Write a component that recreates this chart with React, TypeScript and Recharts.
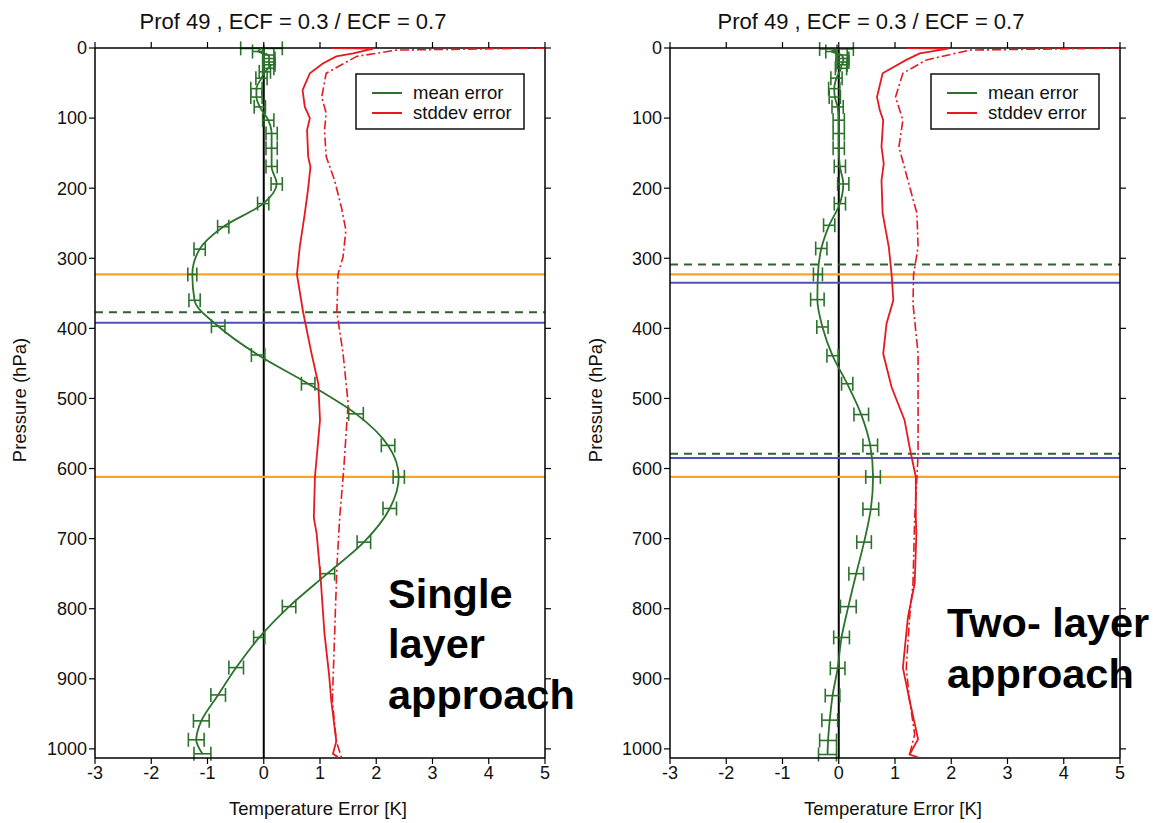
import React from 'react';
import { ScatterChart, Scatter, XAxis, YAxis, ReferenceLine, ErrorBar } from 'recharts';

// ---------- axes ----------
const xTicks = [-3, -2, -1, 0, 1, 2, 3, 4, 5];
const pTicks = [0, 100, 200, 300, 400, 500, 600, 700, 800, 900, 1000];

// ---------- single layer approach (left) ----------
const leftMeanP = [0.5, 5, 10, 15, 20, 24, 29, 34, 43, 58, 70, 84, 103, 122, 143, 169, 194, 222, 255, 287, 323, 360, 397, 438, 479, 522, 567, 612, 657, 705, 750, 797, 841, 884, 923, 960, 987, 1007];
const leftMeanV = [-0.04, -0.1, 0.08, 0.1, 0.09, 0.1, 0.08, 0.02, -0.04, -0.13, -0.13, -0.07, 0.08, 0.14, 0.14, 0.14, 0.23, -0.01, -0.72, -1.14, -1.27, -1.23, -0.81, -0.1, 0.79, 1.64, 2.21, 2.4, 2.24, 1.78, 1.13, 0.45, -0.08, -0.49, -0.81, -1.11, -1.2, -1.09];
const leftMeanE = [0.37, 0.1, 0.1, 0.1, 0.1, 0.1, 0.1, 0.1, 0.1, 0.1, 0.1, 0.1, 0.1, 0.1, 0.1, 0.1, 0.1, 0.1, 0.1, 0.1, 0.08, 0.1, 0.12, 0.12, 0.12, 0.13, 0.12, 0.1, 0.12, 0.12, 0.13, 0.12, 0.1, 0.13, 0.13, 0.14, 0.14, 0.15];

const leftSdP = [0.2, 1, 7.6, 12, 22, 36, 60, 84, 100, 117, 155, 170, 200, 236, 284, 323, 377, 436, 479, 531, 612, 670, 693, 755, 836, 893, 931, 970, 989, 1007, 1012];
const leftSdV = [1.2, 1.95, 1.59, 1.29, 1.05, 0.82, 0.69, 0.73, 0.82, 0.77, 0.79, 0.83, 0.79, 0.73, 0.64, 0.59, 0.7, 0.85, 0.97, 1.0, 0.91, 0.89, 0.94, 1.01, 1.08, 1.16, 1.2, 1.26, 1.29, 1.23, 1.32];

const leftSd2P = [0, 3, 12, 36, 70, 93, 117, 155, 189, 227, 260, 298, 323, 377, 436, 507, 603, 670, 741, 836, 931, 989, 1012];
const leftSd2V = [5.0, 2.36, 1.65, 1.11, 1.03, 1.11, 1.08, 1.11, 1.26, 1.38, 1.46, 1.41, 1.32, 1.3, 1.41, 1.5, 1.42, 1.35, 1.3, 1.26, 1.22, 1.29, 1.38];

const leftOrangeLevels = [323, 612];
const leftBlueLevels = [392];
const leftDashedLevels = [377];

// ---------- two-layer approach (right) ----------
const rightMeanP = [1.5, 5, 10, 15, 20, 24, 29, 43, 58, 70, 84, 103, 122, 143, 169, 194, 222, 253, 286, 323, 359, 398, 439, 479, 523, 567, 612, 658, 705, 750, 797, 841, 885, 924, 959, 988, 1008];
const rightMeanV = [-0.04, -0.13, 0.05, 0.08, 0.08, 0.05, 0.04, -0.04, -0.08, -0.07, -0.02, 0, 0, 0, 0.02, 0.08, 0.02, -0.17, -0.31, -0.37, -0.38, -0.29, -0.11, 0.15, 0.4, 0.56, 0.61, 0.57, 0.45, 0.31, 0.17, 0.05, -0.02, -0.11, -0.16, -0.19, -0.2];
const rightMeanE = [0.3, 0.1, 0.1, 0.1, 0.1, 0.1, 0.1, 0.1, 0.1, 0.1, 0.1, 0.1, 0.1, 0.1, 0.1, 0.1, 0.1, 0.1, 0.1, 0.08, 0.12, 0.1, 0.1, 0.1, 0.13, 0.13, 0.13, 0.14, 0.13, 0.13, 0.14, 0.14, 0.13, 0.13, 0.14, 0.15, 0.16];

const rightSdP = [0.2, 1, 7.6, 17, 36, 70, 89, 103, 141, 165, 189, 236, 284, 323, 360, 393, 436, 484, 531, 574, 612, 670, 693, 764, 812, 884, 931, 986, 1008, 1012];
const rightSdV = [1.2, 1.95, 1.44, 1.2, 0.78, 0.68, 0.73, 0.79, 0.76, 0.8, 0.76, 0.78, 0.89, 0.94, 0.97, 0.85, 0.79, 0.94, 1.17, 1.27, 1.37, 1.37, 1.38, 1.35, 1.23, 1.14, 1.26, 1.41, 1.26, 1.41];

const rightSd2P = [0, 3, 17, 36, 70, 103, 141, 189, 236, 284, 323, 365, 436, 579, 612, 670, 764, 812, 884, 931, 979, 1008];
const rightSd2V = [5.0, 2.33, 1.56, 1.14, 1.01, 1.14, 1.07, 1.23, 1.39, 1.41, 1.33, 1.32, 1.41, 1.41, 1.39, 1.35, 1.32, 1.26, 1.2, 1.26, 1.35, 1.26];

const rightOrangeLevels = [323, 612];
const rightBlueLevels = [335, 585];
const rightDashedLevels = [309, 579];

const titleText = 'Prof 49 , ECF = 0.3 / ECF = 0.7';

// ---------- helpers ----------
type Pt = { p: number; v: number; e: number };
const zip = (p: number[], v: number[], e?: number[]): Pt[] =>
  p.map((pp, i) => ({ p: pp, v: v[i], e: e ? e[i] : 0 }));

const GREEN = '#2b722b';
const RED = '#e6191f';
const ORANGE = '#f6a42a';
const BLUE = '#5050b0';
const DGREEN = '#2f622f';
const FONT = '"Liberation Sans", Arial, Helvetica, sans-serif';

const NoShape = () => null;

type PanelProps = {
  mean: Pt[];
  sd: Pt[];
  sd2: Pt[];
  orange: number[];
  blue: number[];
  dashed: number[];
};

const Panel = ({ mean, sd, sd2, orange, blue, dashed }: PanelProps) => (
  <ScatterChart width={575} height={823} margin={{ top: 38, right: 20, bottom: 35, left: 35 }}>
    <XAxis
      type="number"
      dataKey="v"
      domain={[-3, 5]}
      ticks={xTicks}
      allowDataOverflow
      height={30}
      tickSize={6}
      stroke="#000"
      axisLine={{ stroke: '#000', strokeWidth: 1.5 }}
      tickLine={{ stroke: '#000', strokeWidth: 1.2 }}
      tick={{ fill: '#111', fontSize: 18, fontFamily: FONT }}
    />
    <XAxis
      xAxisId="top"
      orientation="top"
      type="number"
      dataKey="v"
      domain={[-3, 5]}
      ticks={xTicks}
      allowDataOverflow
      height={10}
      tickSize={6}
      stroke="#000"
      axisLine={{ stroke: '#000', strokeWidth: 1.5 }}
      tickLine={{ stroke: '#000', strokeWidth: 1.2 }}
      tickFormatter={() => ''}
    />
    <YAxis
      type="number"
      dataKey="p"
      domain={[0, 1013]}
      reversed
      ticks={pTicks}
      allowDataOverflow
      width={60}
      tickSize={6}
      stroke="#000"
      axisLine={{ stroke: '#000', strokeWidth: 1.5 }}
      tickLine={{ stroke: '#000', strokeWidth: 1.2 }}
      tick={{ fill: '#111', fontSize: 18, fontFamily: FONT }}
    />
    <YAxis
      yAxisId="r"
      orientation="right"
      type="number"
      dataKey="p"
      domain={[0, 1013]}
      reversed
      ticks={pTicks}
      allowDataOverflow
      width={10}
      tickSize={6}
      stroke="#000"
      axisLine={{ stroke: '#000', strokeWidth: 1.5 }}
      tickLine={{ stroke: '#000', strokeWidth: 1.2 }}
      tickFormatter={() => ''}
    />
    <ReferenceLine x={0} stroke="#000" strokeWidth={2} ifOverflow="hidden" />
    {orange.map((y) => (
      <ReferenceLine key={'o' + y} y={y} stroke={ORANGE} strokeWidth={2.2} ifOverflow="hidden" />
    ))}
    {blue.map((y) => (
      <ReferenceLine key={'b' + y} y={y} stroke={BLUE} strokeWidth={2} ifOverflow="hidden" />
    ))}
    {dashed.map((y) => (
      <ReferenceLine key={'d' + y} y={y} stroke={DGREEN} strokeWidth={2} strokeDasharray="8 6" ifOverflow="hidden" />
    ))}
    <Scatter
      data={sd2}
      shape={<NoShape />}
      line={{ stroke: RED, strokeWidth: 1.6, strokeDasharray: '9 3 2 3' }}
      lineType="joint"
      isAnimationActive={false}
      legendType="none"
    />
    <Scatter
      data={sd}
      shape={<NoShape />}
      line={{ stroke: RED, strokeWidth: 1.8 }}
      lineType="joint"
      isAnimationActive={false}
      legendType="none"
    />
    <Scatter
      data={mean}
      shape={<NoShape />}
      line={{ stroke: GREEN, strokeWidth: 1.8 }}
      lineType="joint"
      lineJointType="monotoneY"
      isAnimationActive={false}
      legendType="none"
    >
      <ErrorBar dataKey="e" direction="x" width={7} stroke={GREEN} strokeWidth={1.6} />
    </Scatter>
  </ScatterChart>
);

const LegendBox = ({ x }: { x: number }) => (
  <g>
    <rect x={x} y={74} width={168} height={55} fill="#fff" stroke="#111" strokeWidth={1.5} />
    <line x1={x + 16} x2={x + 46} y1={93} y2={93} stroke={GREEN} strokeWidth={2} />
    <line x1={x + 16} x2={x + 46} y1={113} y2={113} stroke={RED} strokeWidth={2} />
    <text x={x + 57} y={99} fontSize={18.5} fill="#111">mean error</text>
    <text x={x + 57} y={119} fontSize={18.5} fill="#111">stddev error</text>
  </g>
);

export default function App() {
  const leftMean = zip(leftMeanP, leftMeanV, leftMeanE);
  const leftSd = zip(leftSdP, leftSdV);
  const leftSd2 = zip(leftSd2P, leftSd2V);
  const rightMean = zip(rightMeanP, rightMeanV, rightMeanE);
  const rightSd = zip(rightSdP, rightSdV);
  const rightSd2 = zip(rightSd2P, rightSd2V);

  return (
    <div style={{ position: 'absolute', left: 0, top: 0, width: 1153, height: 823, background: '#fff', fontFamily: FONT, overflow: 'hidden' }}>
      <div style={{ position: 'absolute', left: 0, top: 0 }}>
        <Panel mean={leftMean} sd={leftSd} sd2={leftSd2} orange={leftOrangeLevels} blue={leftBlueLevels} dashed={leftDashedLevels} />
      </div>
      <div style={{ position: 'absolute', left: 575, top: 0 }}>
        <Panel mean={rightMean} sd={rightSd} sd2={rightSd2} orange={rightOrangeLevels} blue={rightBlueLevels} dashed={rightDashedLevels} />
      </div>
      <svg width={1153} height={823} style={{ position: 'absolute', left: 0, top: 0, pointerEvents: 'none', fontFamily: FONT }}>
        <text x={293} y={29} fontSize={22} textAnchor="middle" fill="#111">{titleText}</text>
        <text x={871} y={29} fontSize={22} textAnchor="middle" fill="#111">{titleText}</text>
        <text x={26} y={400} fontSize={18.5} textAnchor="middle" fill="#111" transform="rotate(-90 26 400)">Pressure (hPa)</text>
        <text x={602} y={400} fontSize={18.5} textAnchor="middle" fill="#111" transform="rotate(-90 602 400)">Pressure (hPa)</text>
        <text x={318} y={815} fontSize={18.5} textAnchor="middle" fill="#111">Temperature Error [K]</text>
        <text x={893} y={815} fontSize={18.5} textAnchor="middle" fill="#111">Temperature Error [K]</text>
        <LegendBox x={356} />
        <LegendBox x={931} />
        <g fontSize={41.5} fontWeight="bold" fill="#000">
          <text x={388} y={608}>Single</text>
          <text x={388} y={658}>layer</text>
          <text x={388} y={709}>approach</text>
          <text x={947} y={637}>Two- layer</text>
          <text x={947} y={688}>approach</text>
        </g>
      </svg>
    </div>
  );
}
